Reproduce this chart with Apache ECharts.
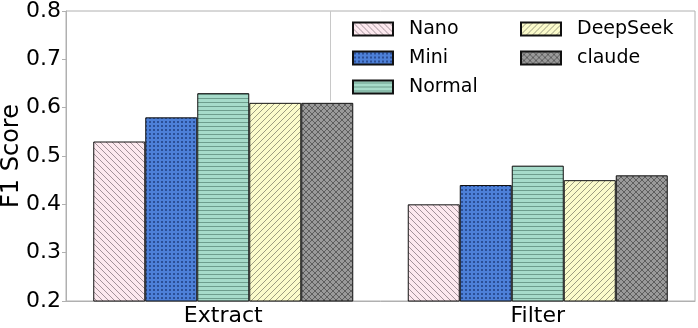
<!DOCTYPE html>
<html>
<head>
<meta charset="utf-8">
<script src="https://cdn.jsdelivr.net/npm/echarts@6/dist/echarts.min.js"></script>
<style>
html,body{margin:0;padding:0;background:#fff;}
#chart{width:698px;height:328px;}
</style>
</head>
<body>
<div id="chart"></div>
<script>
const categories = ['Extract', 'Filter'];
const seriesNames = ['Nano', 'Mini', 'Normal', 'DeepSeek', 'claude'];
const nano = [0.53, 0.40];
const mini = [0.58, 0.44];
const normal = [0.63, 0.48];
const deepseek = [0.61, 0.45];
const claude = [0.61, 0.46];
const yTicks = [0.2, 0.3, 0.4, 0.5, 0.6, 0.7, 0.8];

function makeTile(w, h, bg, fg, draw) {
  const c = document.createElement('canvas');
  c.width = w; c.height = h;
  const g = c.getContext('2d');
  g.fillStyle = bg; g.fillRect(0, 0, w, h);
  g.fillStyle = fg;
  draw(g, w, h);
  return { image: c, repeat: 'repeat' };
}
const patNano = makeTile(6, 6, '#fde9ef', '#a3929a', (g, w) => {
  for (let i = 0; i < w; i++) g.fillRect(i, i, 1, 1);
});
const patMini = makeTile(4, 4, '#4d80d8', '#2b4f96', (g) => {
  g.fillRect(1, 1, 2, 2);
});
const patNormal = makeTile(4, 4, '#a6dbca', '#6d9d8d', (g) => {
  g.fillRect(0, 2, 4, 1);
});
const patDeep = makeTile(6, 6, '#fbfbcb', '#9d9d82', (g, w) => {
  for (let i = 0; i < w; i++) g.fillRect(w - 1 - i, i, 1, 1);
});
const patClaude = makeTile(6, 6, '#9a9a9a', '#5e5e5e', (g, w) => {
  for (let i = 0; i < w; i++) { g.fillRect(i, i, 1, 1); g.fillRect(w - 1 - i, i, 1, 1); }
});
const patterns = [patNano, patMini, patNormal, patDeep, patClaude];
const values = [nano, mini, normal, deepseek, claude];

const FONT = 'DejaVu Sans';
const chart = echarts.init(document.getElementById('chart'), null, { renderer: 'canvas' });
chart.setOption({
  animation: false,
  textStyle: { fontFamily: FONT, color: '#000' },
  grid: { left: 66, right: 3, top: 11, bottom: 27, show: true, borderColor: '#b0b0b0', borderWidth: 1,
    containLabel: false, outerBoundsMode: 'none' },
  legend: [
    {
      data: seriesNames.slice(0, 3), orient: 'vertical', left: 352, top: 19,
      itemWidth: 40, itemHeight: 13, itemGap: 9, icon: 'rect',
      textStyle: { fontFamily: FONT, fontSize: 19, color: '#000', lineHeight: 20, padding: [0, 0, 0, 11] },
      padding: 0
    },
    {
      data: seriesNames.slice(3), orient: 'vertical', left: 520, top: 19,
      itemWidth: 40, itemHeight: 13, itemGap: 9, icon: 'rect',
      textStyle: { fontFamily: FONT, fontSize: 19, color: '#000', lineHeight: 20, padding: [0, 0, 0, 11] },
      padding: 0
    }
  ],
  graphic: [
    { type: 'line', shape: { x1: 330.5, y1: 11, x2: 330.5, y2: 101 }, style: { stroke: '#c8c8c8', lineWidth: 1 }, z: 0 }
  ],
  xAxis: {
    type: 'category', data: categories,
    axisLine: { show: true, lineStyle: { color: '#b0b0b0', width: 1 } },
    axisTick: { show: false },
    axisLabel: { fontFamily: FONT, fontSize: 22, color: '#000', margin: 4 },
    splitLine: { show: false }
  },
  yAxis: {
    type: 'value', min: 0.2, max: 0.8, interval: 0.1,
    name: 'F1 Score', nameLocation: 'middle', nameGap: 42, nameMoveOverlap: false,
    nameTextStyle: { fontFamily: FONT, fontSize: 24, color: '#000' },
    axisLine: { show: true, lineStyle: { color: '#b0b0b0', width: 1 } },
    axisTick: { show: true, length: 4, lineStyle: { color: '#b0b0b0' } },
    axisLabel: { fontFamily: FONT, fontSize: 22, color: '#000', margin: 5,
      formatter: v => { const t = yTicks.find(x => Math.abs(x - v) < 1e-6); return (t !== undefined ? t : v).toFixed(1); } },
    splitLine: { show: false }
  },
  series: seriesNames.map((n, i) => ({
    name: n, type: 'bar', data: values[i], barWidth: 52, barGap: '0%',
    itemStyle: { color: patterns[i], borderColor: '#111', borderWidth: 1 }
  }))
});
</script>
</body>
</html>
